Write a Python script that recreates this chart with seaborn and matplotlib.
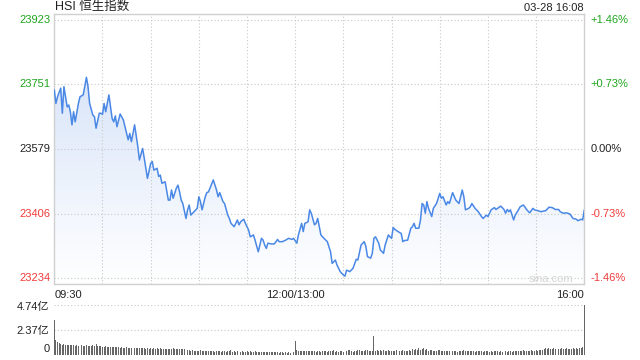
import numpy as np
import pandas as pd
import matplotlib
matplotlib.use("Agg")
import matplotlib.pyplot as plt
import seaborn as sns
from matplotlib.colors import LinearSegmentedColormap

# ======================
# Data (minutes since 09:30, lunch break removed)
# ======================

minutes = [0, 1, 2, 4, 5, 6, 8, 9, 10, 11, 12, 13, 15, 16, 18, 20, 21, 22, 24, 25,
           26, 28, 29, 30, 31, 32, 34, 36, 37, 38, 39, 41, 43, 45, 46, 47, 48, 50, 52, 53,
           55, 56, 58, 60, 61, 62, 64, 65, 66, 67, 69, 71, 72, 73, 74, 76, 77, 78, 79, 80,
           82, 83, 84, 85, 87, 89, 90, 91, 92, 94, 95, 96, 99, 101, 102, 103, 105, 106, 108, 109,
           110, 112, 114, 115, 116, 118, 119, 121, 122, 124, 125, 127, 129, 130, 131, 132, 133, 135, 137, 139,
           140, 142, 144, 146, 148, 149, 151, 152, 154, 155, 156, 158, 159, 160, 162, 163, 164, 166, 167, 170,
           172, 173, 175, 176, 178, 180, 181, 182, 184, 186, 188, 189, 191, 193, 194, 195, 197, 198, 199, 200,
           202, 203, 205, 206, 208, 209, 210, 211, 212, 214, 216, 217, 218, 220, 222, 223, 224, 225, 227, 228,
           229, 230, 231, 232, 233, 235, 236, 238, 240, 241, 242, 244, 245, 246, 248, 250, 252, 254, 255, 256,
           258, 259, 260, 262, 264, 266, 267, 269, 270, 272, 274, 275, 278, 280, 281, 282, 283, 284, 286, 287,
           289, 290, 292, 293, 294, 296, 298, 299, 301, 303, 306, 308, 310, 312, 314, 315, 317, 319, 321, 323,
           325, 326, 328, 329, 330]

prices = [23736, 23700, 23718, 23741, 23674, 23745, 23691, 23696, 23678, 23643, 23678, 23651, 23700, 23718, 23723, 23770, 23745, 23700, 23669, 23665,
          23634, 23674, 23674, 23671, 23700, 23678, 23723, 23660, 23651, 23667, 23638, 23672, 23656, 23620, 23603, 23620, 23598, 23643, 23585, 23549,
          23580, 23554, 23500, 23540, 23545, 23522, 23527, 23505, 23509, 23487, 23491, 23442, 23442, 23469, 23447, 23474, 23482, 23464, 23442, 23433,
          23393, 23416, 23429, 23402, 23411, 23420, 23451, 23438, 23416, 23451, 23462, 23464, 23496, 23469, 23451, 23462, 23438, 23433, 23402, 23393,
          23380, 23371, 23389, 23376, 23384, 23391, 23380, 23362, 23344, 23349, 23335, 23304, 23340, 23335, 23322, 23313, 23327, 23325, 23325, 23337,
          23331, 23331, 23335, 23340, 23337, 23340, 23327, 23349, 23380, 23358, 23380, 23384, 23416, 23407, 23376, 23380, 23393, 23349, 23344, 23331,
          23304, 23273, 23282, 23269, 23251, 23242, 23239, 23255, 23251, 23260, 23284, 23282, 23322, 23331, 23318, 23291, 23287, 23300, 23340, 23344,
          23327, 23309, 23300, 23322, 23349, 23344, 23340, 23369, 23364, 23358, 23353, 23331, 23334, 23335, 23367, 23371, 23380, 23367, 23367, 23389,
          23433, 23429, 23407, 23438, 23420, 23398, 23420, 23433, 23460, 23447, 23451, 23429, 23438, 23433, 23462, 23442, 23433, 23469, 23451, 23416,
          23420, 23424, 23433, 23420, 23411, 23398, 23393, 23402, 23398, 23416, 23422, 23417, 23426, 23417, 23407, 23417, 23411, 23416, 23389, 23402,
          23416, 23424, 23429, 23424, 23417, 23408, 23420, 23416, 23414, 23411, 23414, 23423, 23422, 23417, 23417, 23411, 23407, 23408, 23405, 23393,
          23391, 23387, 23391, 23389, 23416]

# volume per minute, unit: 亿
volume = [3.30, 1.43, 1.20, 1.10, 1.05, 0.98, 1.02, 0.95, 0.97, 0.93,
          0.95, 0.92, 0.96, 0.90, 0.94, 0.88, 0.91, 0.95, 0.86, 0.90,
          0.92, 0.85, 0.89, 0.87, 0.93, 0.84, 1.00, 0.86, 0.82, 0.88,
          0.80, 0.78, 0.84, 0.76, 0.80, 0.73, 0.77, 0.75, 0.79, 0.72,
          0.74, 0.70, 0.76, 0.68, 0.71, 0.73, 0.66, 0.70, 0.69, 0.72,
          0.65, 0.68, 0.63, 0.70, 0.66, 0.62, 0.67, 0.60, 0.64, 0.61,
          0.66, 0.59, 0.63, 0.58, 0.62, 0.60, 0.65, 0.57, 0.61, 0.59,
          0.56, 0.60, 0.58, 0.55, 0.62, 0.57, 0.54, 0.59, 0.56, 0.53,
          0.58, 0.55, 0.72, 0.50, 0.46, 0.41, 0.44, 0.38, 0.42, 0.40,
          0.36, 0.43, 0.39, 0.35, 0.41, 0.37, 0.40, 0.34, 0.38, 0.36,
          0.33, 0.39, 0.35, 0.37, 0.32, 0.36, 0.34, 0.31, 0.38, 0.35,
          0.45, 0.33, 0.36, 0.30, 0.34, 0.37, 0.32, 0.35, 0.30, 0.33,
          0.36, 0.31, 0.34, 0.29, 0.33, 0.38, 0.30, 0.32, 0.28, 0.31,
          0.27, 0.30, 0.26, 0.29, 0.25, 0.28, 0.24, 0.27, 0.26, 0.25,
          0.23, 0.27, 0.24, 0.22, 0.26, 0.23, 0.25, 0.22, 0.24, 0.30,
          1.37, 0.45, 0.40, 0.42, 0.38, 0.41, 0.36, 0.39, 0.35, 0.37,
          0.40, 0.34, 0.38, 0.33, 0.36, 0.39, 0.32, 0.35, 0.37, 0.34,
          0.31, 0.35, 0.38, 0.42, 0.47, 0.33, 0.36, 0.30, 0.34, 0.37,
          0.32, 0.35, 0.39, 0.45, 0.48, 0.36, 0.33, 0.40, 0.37, 0.44,
          0.50, 0.38, 0.42, 0.35, 0.46, 0.51, 0.39, 0.41, 0.36, 1.76,
          0.40, 0.45, 0.38, 0.43, 0.36, 0.48, 0.41, 0.37, 0.44, 0.39,
          0.35, 0.42, 0.38, 0.46, 0.33, 0.40, 0.37, 0.43, 0.36, 0.39,
          0.42, 0.47, 0.38, 0.55, 0.45, 0.60, 0.52, 0.68, 0.49, 0.58,
          0.62, 0.46, 0.54, 0.40, 0.47, 0.44, 0.38, 0.41, 0.36, 0.43,
          0.45, 0.39, 0.42, 0.37, 0.40, 0.35, 0.38, 0.34, 0.41, 0.36,
          0.39, 0.33, 0.37, 0.40, 0.35, 0.48, 0.38, 0.36, 0.41, 0.34,
          0.37, 0.40, 0.33, 0.36, 0.39, 0.35, 0.38, 0.32, 0.36, 0.34,
          0.37, 0.33, 0.35, 0.31, 0.36, 0.34, 0.38, 0.32, 0.35, 0.30,
          0.34, 0.37, 0.33, 0.39, 0.35, 0.32, 0.36, 0.42, 0.38, 0.35,
          0.40, 0.37, 0.43, 0.39, 0.36, 0.41, 0.38, 0.44, 0.40, 0.37,
          0.45, 0.42, 0.48, 0.44, 0.50, 0.58, 0.62, 0.55, 0.65, 0.60,
          0.57, 0.63, 0.59, 0.66, 0.61, 0.56, 0.64, 0.60, 0.58, 0.62,
          0.55, 0.61, 0.59, 0.63, 0.57, 0.66, 0.60, 0.62, 0.68, 0.72,
          4.74]

price_ticks = [23234, 23406, 23579, 23751, 23923]
price_tick_labels = ["23234", "23406", "23579", "23751", "23923"]
pct_tick_labels = ["-1.46%", "-0.73%", "0.00%", "+0.73%", "+1.46%"]
tick_colors = ["#f03a3a", "#f03a3a", "#222222", "#1ea51e", "#1ea51e"]

time_ticks = [0, 150, 330]
time_labels = ["09:30", "12:00/13:00", "16:00"]

vol_ticks = [0, 2.37, 4.74]
vol_labels = ["0", "2.37亿", "4.74亿"]

title = "HSI 恒生指数"
stamp = "03-28 16:08"

# ======================
# Style
# ======================

sns.set_theme(style="white")
plt.rcParams["font.family"] = ["Liberation Sans", "Noto Sans CJK SC"]

line_color = "#4a88e6"
grid_color = "#c8c8c8"

df = pd.DataFrame({"minute": minutes, "price": prices})

fig = plt.figure(figsize=(6.4, 3.6), dpi=100)
ax = fig.add_axes([54.3 / 640, 1 - 284 / 360, 530 / 640, 270 / 360])
ax_vol = fig.add_axes([54.3 / 640, 1 - 355 / 360, 530 / 640, 50 / 360])

# ======================
# Price panel
# ======================

ylo = 23234 - 6 * 2.6705
yhi = 23923 + 6 * 2.6705
ax.set_xlim(0, 330)
ax.set_ylim(ylo, yhi)

# gradient fill under the line
cmap = LinearSegmentedColormap.from_list("fillgrad", ["#ffffff", "#d9e5f9"])
grad = np.linspace(0, 1, 256).reshape(-1, 1)
img = ax.imshow(grad, extent=[0, 330, ylo, 23780], origin="lower",
                aspect="auto", cmap=cmap, zorder=1)
poly = ax.fill_between(df["minute"], df["price"], ylo, color="none", lw=0)
img.set_clip_path(poly.get_paths()[0], transform=ax.transData)

sns.lineplot(data=df, x="minute", y="price", ax=ax, color=line_color,
             linewidth=1.1, zorder=3)

for t in range(30, 330, 30):
    ax.axvline(t, color=grid_color, lw=0.8, ls=(0, (1, 2)), zorder=2)
for p in price_ticks[1:-1]:
    ax.axhline(p, color=grid_color, lw=0.8, ls=(0, (1, 2)), zorder=2)
ax.axhline(price_ticks[0], color=grid_color, lw=0.8, ls=(0, (1, 2)), zorder=2)
ax.axhline(price_ticks[-1], color=grid_color, lw=0.8, ls=(0, (1, 2)), zorder=2)

ax.set_xticks([])
ax.set_yticks([])
ax.set_xlabel("")
ax.set_ylabel("")
for s in ax.spines.values():
    s.set_color("#d0d0d0")
    s.set_linewidth(1.0)

for p, lab, pct, c in zip(price_ticks, price_tick_labels, pct_tick_labels, tick_colors):
    ax.text(-3.5 / 530 * 330, p, lab, ha="right", va="center", fontsize=8, color=c)
    ax.text(330 + 6 / 530 * 330, p, pct, ha="left", va="center", fontsize=8, color=c)

aligns = ["left", "center", "right"]
for t, lab, ha in zip(time_ticks, time_labels, aligns):
    ax.text(t, ylo - 11 * 2.6705, lab, ha=ha, va="center", fontsize=8, color="#222222")

ax.text(323, 23234 - 0.5 * 2.6705, "sina.com", ha="right", va="center",
        fontsize=8, color="#d4d4d4", zorder=4)

fig.text(55 / 640, 1 - 7 / 360, title, ha="left", va="center", fontsize=9, color="#222222")
fig.text(584 / 640, 1 - 8 / 360, stamp, ha="right", va="center", fontsize=8, color="#222222")

# ======================
# Volume panel
# ======================

ax_vol.bar(np.arange(len(volume)), volume, width=0.6, color="#666666",
           linewidth=0, clip_on=False)
ax_vol.set_xlim(0, 330)
ax_vol.set_ylim(0, 4.74)
ax_vol.axhline(4.74, color=grid_color, lw=0.8, ls=(0, (1, 2)), zorder=0)
ax_vol.axhline(2.37, color=grid_color, lw=0.8, ls=(0, (1, 2)), zorder=0)
ax_vol.set_xticks([])
ax_vol.set_yticks([])
for s in ax_vol.spines.values():
    s.set_visible(False)

vol_label_y = [0.55, 2.30, 4.60]
for v, lab in zip(vol_label_y, vol_labels):
    ax_vol.text(-5 / 530 * 330, v, lab, ha="right", va="center", fontsize=8, color="#222222")

fig.savefig("out.png", dpi=100)
